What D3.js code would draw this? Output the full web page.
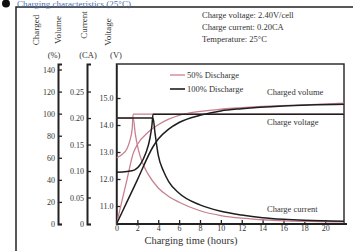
<!DOCTYPE html>
<html>
<head>
<meta charset="utf-8">
<script src="https://cdn.jsdelivr.net/npm/d3@7"></script>
<style>
  html, body { margin: 0; padding: 0; background: #fff; }
  svg { display: block; }
  text { font-family: "Liberation Serif", "DejaVu Serif", serif; fill: #333; }
</style>
</head>
<body>
<svg id="chart" width="353" height="251"></svg>
<script>
// ---- data ----
const timeTicks = [0, 2, 4, 6, 8, 10, 12, 14, 16, 18, 20];
const voltageTicks = [11, 12, 13, 14, 15];
const currentTicks = [0, 0.05, 0.10, 0.15, 0.20, 0.25];
const volumeTicks = [0, 20, 40, 60, 80, 100, 120, 140];

// charged volume (%) vs hours
const volume50 = [[0,0],[0.5,20],[1,40],[1.6,64],[2,72],[3,83],[4,90],[5,95],[6,98.5],[8,102],[10,104],[14,106.5],[18,108],[21.8,109.5]];
const volume100 = [[0,0],[1,20],[2,40],[3.5,70],[4,77],[5,86],[6,92],[8,98.5],[10,102.5],[12,104.5],[16,107],[21.8,108.5]];
// charge voltage (V) vs hours
const voltage50 = [[0,12.78],[0.5,12.9],[1,13.12],[1.3,13.45],[1.5,13.85],[1.6,14.4],[21.8,14.4]];
const voltage100 = [[0,12.25],[1,12.28],[1.7,12.33],[2.3,12.55],[2.8,12.95],[3.2,13.5],[3.4,14.0],[3.5,14.4],[21.8,14.4]];
// charge current (CA) vs hours
const current50 = [[0,0.2],[1.6,0.2],[1.8,0.17],[2.1,0.14],[2.5,0.115],[3,0.095],[4,0.068],[5,0.052],[6,0.041],[8,0.025],[10,0.016],[12,0.011],[14,0.008],[16,0.006],[18,0.005],[21.8,0.004]];
const current100 = [[0,0.2],[3.5,0.2],[3.7,0.17],[4,0.13],[4.5,0.10],[5,0.08],[6,0.058],[8,0.036],[10,0.024],[12,0.017],[14,0.012],[16,0.009],[18,0.007],[21.8,0.005]];

const legendLabels = ["50% Discharge", "100% Discharge"];
const notes = ["Charge voltage: 2.40V/cell", "Charge current: 0.20CA", "Temperature: 25°C"];

// ---- layout ----
const svg = d3.select("#chart");
const pink = "#c8808f", dark = "#1e1e1e";
const plot = { left: 116.5, right: 344, top: 64, bottom: 224 };

const x = d3.scaleLinear().domain([0, 21.8]).range([plot.left, plot.right]);
const yV = d3.scaleLinear().domain([10.333, 16.26]).range([plot.bottom, plot.top]);
const yI = d3.scaleLinear().domain([0, 0.302]).range([plot.bottom, plot.top]);
const yC = d3.scaleLinear().domain([0, 145]).range([plot.bottom, plot.top]);

// outer frame
svg.append("path").attr("d", "M16,252V7H354").attr("fill", "none").attr("stroke", "#222").attr("stroke-width", 1.5);

// title
svg.append("circle").attr("cx", 6).attr("cy", 3.5).attr("r", 4).attr("fill", "#111");
svg.append("text").attr("x", 17).attr("y", 6.5).attr("font-size", 9).style("fill", "#4a6db0")
  .text("Charging characteristics (25°C)");

// notes
svg.selectAll("text.note").data(notes).join("text").attr("class", "note")
  .attr("x", 202).attr("y", (d, i) => 18 + i * 12).attr("font-size", 8.5).text(d => d);

// plot box
svg.append("rect").attr("x", plot.left).attr("y", plot.top)
  .attr("width", plot.right - plot.left).attr("height", plot.bottom - plot.top)
  .attr("fill", "none").attr("stroke", "#222").attr("stroke-width", 1.4);

// clip
svg.append("clipPath").attr("id", "clip").append("rect")
  .attr("x", plot.left).attr("y", plot.top).attr("width", plot.right - plot.left).attr("height", plot.bottom - plot.top);

function styleAxis(g, w) {
  g.select(".domain").attr("stroke", "#222").attr("stroke-width", w);
  g.selectAll(".tick line").attr("stroke", "#222").attr("stroke-width", 1.3);
  g.selectAll(".tick text").attr("font-family", "Liberation Serif, serif").attr("font-size", 8).attr("fill", "#333");
}

// volume axis
const gC = svg.append("g").attr("transform", "translate(58,0)")
  .call(d3.axisLeft(yC).tickValues(volumeTicks).tickFormat(d3.format("d")).tickSizeInner(-4).tickSizeOuter(-4).tickPadding(3));
styleAxis(gC, 2);
// current axis
const gI = svg.append("g").attr("transform", "translate(87,0)")
  .call(d3.axisLeft(yI).tickValues(currentTicks).tickFormat(d => d === 0 ? "0" : d3.format(".2f")(d)).tickSizeInner(-4).tickSizeOuter(-4).tickPadding(3));
styleAxis(gI, 2);
// voltage axis
const gV = svg.append("g").attr("transform", `translate(${plot.left},0)`)
  .call(d3.axisLeft(yV).tickValues(voltageTicks).tickFormat(d3.format(".1f")).tickSizeInner(-4).tickSizeOuter(0).tickPadding(3));
styleAxis(gV, 1.4);
// x axis
const gX = svg.append("g").attr("transform", `translate(0,${plot.bottom})`)
  .call(d3.axisBottom(x).tickValues(timeTicks).tickFormat(d3.format("d")).tickSizeInner(-4).tickSizeOuter(0).tickPadding(3));
gX.select(".domain").attr("d", `M${plot.left},0H347`);
styleAxis(gX, 2);
gX.selectAll(".tick text").attr("dy", "0.5em");

// axis titles
const titles = [["Charged", 39, 30], ["Volume", 61, 30], ["Current", 87, 25], ["Voltage", 111, 32]];
svg.selectAll("text.ytitle").data(titles).join("text").attr("class", "ytitle")
  .attr("transform", d => `translate(${d[1]},${d[2]}) rotate(-90)`)
  .attr("text-anchor", "middle").attr("font-size", 9).text(d => d[0]);
const units = [["(%)", 54], ["(CA)", 88], ["(V)", 116]];
svg.selectAll("text.unit").data(units).join("text").attr("class", "unit")
  .attr("x", d => d[1]).attr("y", 58).attr("text-anchor", "middle").attr("font-size", 8.5).text(d => d[0]);

svg.append("text").attr("x", 191).attr("y", 244).attr("text-anchor", "middle").attr("font-size", 10.5)
  .text("Charging time (hours)");

// curves
const g = svg.append("g").attr("clip-path", "url(#clip)");
function draw(data, yScale, color, w) {
  g.append("path").datum(data)
    .attr("d", d3.line().x(d => x(d[0])).y(d => yScale(d[1])).curve(d3.curveMonotoneX))
    .attr("fill", "none").attr("stroke", color).attr("stroke-width", w).attr("stroke-linejoin", "round");
}
draw(volume50, yC, pink, 1.3);
draw(current50, yI, pink, 1.3);
draw(voltage50, yV, pink, 1.3);
draw(volume100, yC, dark, 1.5);
draw(current100, yI, dark, 1.5);
draw(voltage100, yV, dark, 1.5);

// legend
const leg = svg.append("g");
[[pink, 1.3], [dark, 1.6]].forEach((s, i) => {
  leg.append("line").attr("x1", 170).attr("x2", 185).attr("y1", 75 + i * 14).attr("y2", 75 + i * 14)
    .attr("stroke", s[0]).attr("stroke-width", s[1]);
  leg.append("text").attr("x", 187).attr("y", 78 + i * 14).attr("font-size", 8.5).text(legendLabels[i]);
});

// curve labels
const curveLabels = [["Charged volume", 267, 95], ["Charge voltage", 267, 125], ["Charge current", 267, 212]];
svg.selectAll("text.clabel").data(curveLabels).join("text").attr("class", "clabel")
  .attr("x", d => d[1]).attr("y", d => d[2]).attr("font-size", 8.5).text(d => d[0]);
</script>
</body>
</html>
